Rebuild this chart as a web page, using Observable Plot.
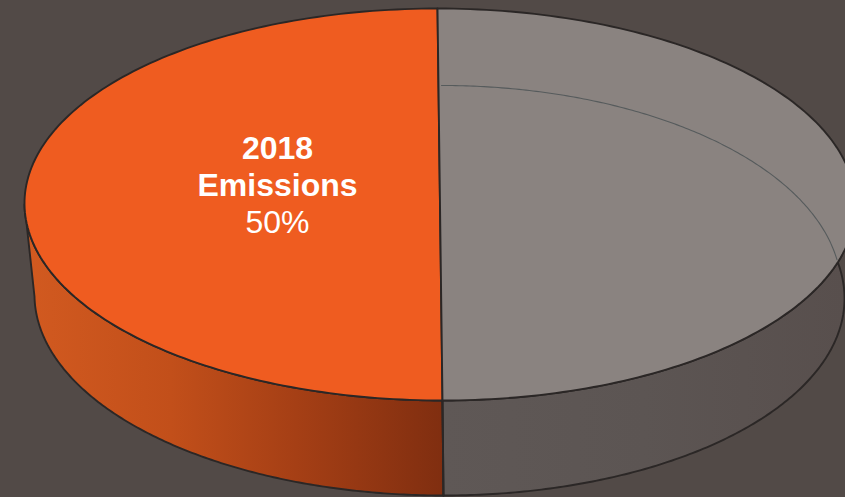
<!DOCTYPE html>
<html>
<head>
<meta charset="utf-8">
<script src="https://cdn.jsdelivr.net/npm/d3@7"></script>
<script src="https://cdn.jsdelivr.net/npm/@observablehq/plot@0.6"></script>
<style>
html,body{margin:0;padding:0;background:#524a47;overflow:hidden}
svg{display:block}
</style>
</head>
<body>
<div id="chart"></div>
<script>
// Data
const categories = ["2018 Emissions", "Remaining"];
const shares = [50, 50];
const labelLines = ["2018", "Emissions", "50%"];

// Colours
const topColors = ["#ef5c20", "#8a8380"];
const edge = "#2b2726";

// Oblique view of the disc, in picture units
const W = 845, H = 497;
const topDisc = {cx: 439.5, cy: 204, rx: 415.5, ry: 196, shear: 2.5};
const baseDisc = {cx: 439, cy: 296, rx: 405, ry: 199, shear: 4};
const backArc = {cx: 441, cy: 290, rx: 400, ry: 205, shear: 0};

// Angle runs from 12 o'clock, in percent of the circle
function at(d, pct) {
  const a = pct / 100 * 2 * Math.PI;
  const s = -Math.cos(a);
  return {x: d.cx + d.rx * Math.sin(a) + d.shear * s, y: d.cy + d.ry * s};
}
function arc(d, from, to, n = 160) {
  return d3.range(n + 1).map(i => at(d, from + (to - from) * i / n));
}
// Slices: first share runs anticlockwise from 12 o'clock, second one clockwise
const sliceTop = [
  {name: categories[0], pts: [at(topDisc, 0), ...arc(topDisc, 100, 100 - shares[0])]},
  {name: categories[1], pts: [at(topDisc, 0), ...arc(topDisc, 0, shares[1])]}
];
// Walls: visible lower part of each slice
const wallLeft = [...arc(topDisc, 75, 50), ...arc(baseDisc, 50, 75)];
const wallRight = [...arc(topDisc, 29.2, 50), ...arc(baseDisc, 50, 21.7)];
const divider = [at(topDisc, 50), at(baseDisc, 50)];
const inner = arc(backArc, 0, 22.6);

function defs() {
  const svg = d3.create("svg:defs");
  const grad = (id, stops) => {
    const g = svg.append("linearGradient").attr("id", id);
    stops.forEach(([o, c]) => g.append("stop").attr("offset", o).attr("stop-color", c));
  };
  grad("wallOrange", [[0, "#d25a20"], [0.35, "#c24f1a"], [0.65, "#a53f15"], [1, "#802e10"]]);
  grad("wallGray", [[0, "#5f5856"], [0.5, "#5c5553"], [1, "#584f4d"]]);
  return svg.node();
}

const lineY = [158.5, 195, 232];
const labels = labelLines.map((t, i) => ({t, y: lineY[i], bold: i < 2}));

const shape = (pts, fill, extra = {}) =>
  Plot.line(pts, {x: "x", y: "y", fill, stroke: edge, strokeWidth: 1.9, curve: "linear-closed", strokeLinejoin: "round", ...extra});

const plot = Plot.plot({
  width: W,
  height: H,
  margin: 0,
  style: {background: "#524a47", overflow: "hidden"},
  x: {domain: [0, W], range: [0, W], axis: null},
  y: {domain: [0, H], range: [0, H], axis: null},
  marks: [
    defs,
    shape(wallLeft, "url(#wallOrange)"),
    shape(wallRight, "url(#wallGray)"),
    Plot.line(divider, {x: "x", y: "y", stroke: edge, strokeWidth: 1.9}),
    shape(sliceTop[0].pts, topColors[0]),
    shape(sliceTop[1].pts, topColors[1]),
    Plot.line(inner, {x: "x", y: "y", stroke: "#565b5c", strokeWidth: 1.1}),
    Plot.text(labels.filter(d => d.bold), {
      x: () => 277, y: "y", text: "t", fill: "white", fontSize: 32, fontWeight: "bold",
      fontFamily: "Liberation Sans", textAnchor: "middle", lineAnchor: "bottom"
    }),
    Plot.text(labels.filter(d => !d.bold), {
      x: () => 277, y: "y", text: "t", fill: "white", fontSize: 32,
      fontFamily: "Liberation Sans", textAnchor: "middle", lineAnchor: "bottom"
    })
  ]
});
document.getElementById("chart").append(plot);
</script>
</body>
</html>
